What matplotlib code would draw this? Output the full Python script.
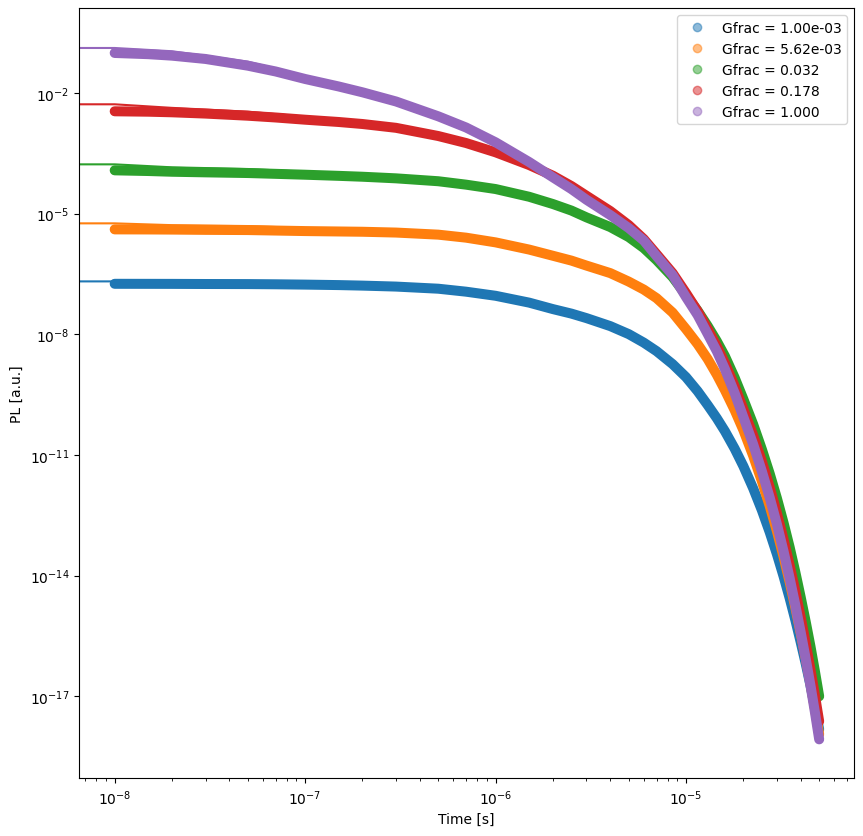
import matplotlib
matplotlib.use("Agg")
import matplotlib.pyplot as plt
from matplotlib.lines import Line2D
import numpy as np

# Time grid of the simulated PL points [s]
time = [1e-8, 1.5e-8, 2e-8, 3e-8, 5e-8, 7e-8, 1e-7, 1.5e-7, 2e-7, 3e-7, 5e-7, 7e-7,
        1e-6, 1.5e-6, 2e-6, 2.5e-6, 3e-6, 4e-6, 5e-6, 6e-6, 7e-6, 8.5e-6,
        1e-5, 1.15e-5, 1.3e-5, 1.45e-5, 1.6e-5, 1.8e-5, 2e-5, 2.25e-5, 2.5e-5, 2.75e-5,
        3e-5, 3.25e-5, 3.5e-5, 3.75e-5, 4e-5, 4.25e-5, 4.5e-5, 4.75e-5, 5e-5]

# Time grid of the model curves (they start at t = 0)
time_fit = [0.0, 1e-8, 2e-8, 5e-8, 1e-7, 2e-7, 5e-7, 1e-6, 2e-6, 3e-6, 5e-6, 7e-6,
            1e-5, 1.3e-5, 1.6e-5, 2e-5, 2.5e-5, 3e-5, 3.5e-5, 4e-5, 4.5e-5, 5e-5]

labels = ['Gfrac = 1.00e-03', 'Gfrac = 5.62e-03', 'Gfrac = 0.032',
          'Gfrac = 0.178', 'Gfrac = 1.000']
colors = ['tab:blue', 'tab:orange', 'tab:green', 'tab:red', 'tab:purple']

# log10(PL) of the data points
log_pl_blue = [-6.744, -6.745, -6.746, -6.749, -6.751, -6.756, -6.764, -6.776, -6.789,
               -6.813, -6.866, -6.940, -7.042, -7.212, -7.373, -7.485, -7.597, -7.796,
               -7.995, -8.207, -8.418, -8.741, -9.065, -9.413, -9.761, -10.085, -10.408,
               -10.843, -11.279, -11.826, -12.373, -12.921, -13.468, -14.015, -14.562,
               -15.110, -15.657, -16.192, -16.727, -17.274, -17.821]
log_pl_orange = [-5.391, -5.393, -5.396, -5.403, -5.408, -5.420, -5.433, -5.443, -5.450,
                 -5.470, -5.522, -5.597, -5.714, -5.893, -6.047, -6.167, -6.291, -6.478,
                 -6.689, -6.888, -7.100, -7.460, -7.871, -8.244, -8.617, -9.003, -9.388,
                 -9.886, -10.383, -11.018, -11.652, -12.274, -12.896, -13.530, -14.164,
                 -14.799, -15.433, -16.055, -16.677, -17.311, -17.945]
log_pl_green = [-3.923, -3.940, -3.958, -3.973, -3.990, -4.010, -4.032, -4.060, -4.082,
                -4.122, -4.194, -4.279, -4.388, -4.580, -4.761, -4.923, -5.092, -5.333,
                -5.582, -5.856, -6.154, -6.577, -7.025, -7.411, -7.796, -8.169, -8.542,
                -9.077, -9.612, -10.234, -10.856, -11.465, -12.075, -12.684, -13.294,
                -13.916, -14.537, -15.147, -15.756, -16.378, -17.000]
log_pl_red = [-2.455, -2.465, -2.480, -2.512, -2.565, -2.609, -2.664, -2.721, -2.771,
              -2.866, -3.070, -3.244, -3.475, -3.791, -4.057, -4.313, -4.555, -4.935,
              -5.284, -5.632, -6.005, -6.478, -6.975, -7.423, -7.871, -8.294, -8.717,
              -9.289, -9.861, -10.508, -11.154, -11.801, -12.448, -13.095, -13.741,
              -14.388, -15.035, -15.682, -16.329, -16.975, -17.622]
log_pl_purple = [-1.005, -1.035, -1.072, -1.154, -1.321, -1.465, -1.652, -1.838, -1.983,
                 -2.211, -2.580, -2.858, -3.226, -3.716, -4.097, -4.388, -4.654, -5.035,
                 -5.358, -5.669, -6.055, -6.527, -7.075, -7.522, -7.995, -8.418, -8.866,
                 -9.463, -10.060, -10.731, -11.403, -12.062, -12.722, -13.393, -14.065,
                 -14.737, -15.408, -16.067, -16.727, -17.398, -18.070]

# log10(PL) of the model lines
log_fit_blue = [-6.684, -6.684, -6.700, -6.711, -6.734, -6.769, -6.841, -7.042, -7.373,
                -7.597, -7.995, -8.418, -9.065, -9.761, -10.408, -11.279, -12.373,
                -13.468, -14.562, -15.657, -16.727, -17.821]
log_fit_orange = [-5.241, -5.241, -5.286, -5.308, -5.358, -5.400, -5.497, -5.714, -6.047,
                  -6.291, -6.689, -7.100, -7.871, -8.617, -9.388, -10.383, -11.652,
                  -12.896, -14.164, -15.433, -16.677, -17.945]
log_fit_green = [-3.774, -3.774, -3.848, -3.890, -3.957, -4.032, -4.169, -4.388, -4.761,
                 -5.092, -5.582, -6.154, -7.025, -7.796, -8.542, -9.612, -10.856,
                 -12.075, -13.294, -14.537, -15.756, -17.000]
log_fit_red = [-2.281, -2.281, -2.370, -2.465, -2.589, -2.721, -3.045, -3.475, -4.057,
               -4.555, -5.284, -6.005, -6.975, -7.871, -8.717, -9.861, -11.154,
               -12.448, -13.741, -15.035, -16.329, -17.622]
log_fit_purple = [-0.881, -0.881, -0.962, -1.221, -1.577, -1.933, -2.555, -3.226, -4.097,
                  -4.654, -5.358, -6.055, -7.075, -7.995, -8.866, -10.060, -11.403,
                  -12.722, -14.065, -15.408, -16.727, -18.070]

data_series = [log_pl_blue, log_pl_orange, log_pl_green, log_pl_red, log_pl_purple]
fit_series = [log_fit_blue, log_fit_orange, log_fit_green, log_fit_red, log_fit_purple]

fig = plt.figure(figsize=(8.63, 8.37), dpi=100)
ax = fig.add_axes([0.0919, 0.0689, 0.8977, 0.92])

handles = []
for pl, fit, c in zip(data_series, fit_series, colors):
    # the dense scatter of the original shows up as a solid band
    ax.plot(time, 10.0 ** np.array(pl), color=c, lw=7.2,
            solid_capstyle='round', solid_joinstyle='round')
    ax.plot(time_fit, 10.0 ** np.array(fit), color=c, lw=1.5)
    handles.append(Line2D([], [], ls='none', marker='o', color=c, alpha=0.5))

ax.set_xscale('log')
ax.set_yscale('log')
ax.set_xlim(6.52e-9, 7.62e-5)
ax.set_ylim(9.14e-20, 1.276)
ax.set_xlabel('Time [s]')
ax.set_ylabel('PL [a.u.]')
ax.legend(handles, labels, loc='upper right')

fig.savefig('out.png', dpi=100)
